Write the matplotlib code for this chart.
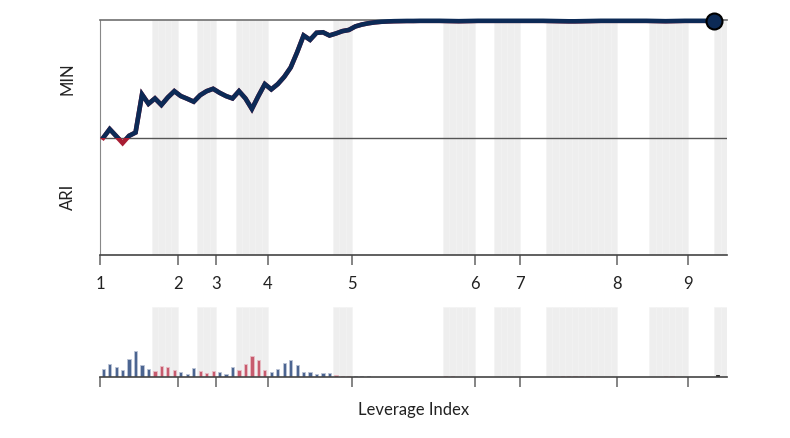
import numpy as np
import matplotlib.pyplot as plt
from matplotlib.patches import Rectangle

plt.rcParams['font.family'] = ['Lato', 'DejaVu Sans']

# %%
# Data (one value per leverage slot)
n_slots = 97
tick_slots = [0, 12, 18, 26, 39, 58, 65, 80, 91]
tick_labels = ['1', '2', '3', '4', '5', '6', '7', '8', '9']

# shaded slot ranges (start, end exclusive)
bands = [(8, 12), (15, 18), (21, 26), (36, 39), (53, 58),
         (61, 65), (69, 80), (85, 91), (95, 97)]

# MIN / ARI balance line, +1 = MIN, -1 = ARI
balance = [0.0, 0.074, 0.015, -0.045, 0.017, 0.045, 0.37, 0.29, 0.336, 0.28,
           0.345, 0.398, 0.356, 0.333, 0.308, 0.364, 0.398, 0.418, 0.384, 0.356,
           0.336, 0.398, 0.336, 0.246, 0.356, 0.458, 0.413, 0.458, 0.52, 0.60,
           0.73, 0.873, 0.836, 0.896, 0.90, 0.873, 0.89, 0.91, 0.92, 0.95,
           0.966, 0.977, 0.985, 0.99, 0.993, 0.995, 0.996, 0.997, 0.997, 0.998,
           0.998, 0.998, 0.998, 0.997, 0.996, 0.995, 0.996, 0.997, 0.998, 0.998,
           0.998, 0.998, 0.998, 0.998, 0.998, 0.998, 0.998, 0.998, 0.998, 0.997,
           0.996, 0.995, 0.994, 0.994, 0.995, 0.996, 0.997, 0.998, 0.998, 0.998,
           0.998, 0.998, 0.998, 0.998, 0.998, 0.997, 0.996, 0.995, 0.996, 0.997,
           0.998, 0.998, 0.998, 0.998, 0.998, 0.998]

# activity per slot (arbitrary units)
activity = [8.0, 13.3, 10.3, 7.3, 18.0, 25.6, 12.3, 8.3, 6.3, 11.3,
            10.3, 6.6, 4.6, 3.3, 9.0, 6.3, 4.0, 6.3, 5.0, 3.3,
            9.6, 7.0, 13.0, 21.3, 17.3, 6.6, 5.0, 8.3, 14.0, 17.0,
            12.3, 4.6, 4.6, 2.6, 4.3, 3.6, 2.3, 1.3, 1.3, 1.0,
            0.7, 0.6, 0.5, 0.5, 0, 0, 0, 0, 0, 0,
            0, 0, 0, 0.8, 0.6, 0, 0, 0, 0, 0,
            0, 0, 0, 0, 0, 0, 0, 0, 0, 0,
            0, 0.7, 0.7, 0.7, 0.7, 0.7, 0, 0, 0, 0,
            0, 0, 0, 0, 0, 0, 0, 0.6, 0.6, 0,
            0, 0, 0, 0, 0, 2.0, 0]

# %%
navy = '#0c2a56'
red = '#a81d33'
band_col = '#eeeeee'
axis_col = '#6f6f6f'

fig = plt.figure(figsize=(7.9, 4.38), dpi=100)
ax = fig.add_axes([100/790, 1-255/438, 627/790, 235/438])
ax2 = fig.add_axes([100/790, 1-377/438, 627/790, 70/438])

def shade(a):
    for s, e in bands:
        for k in range(s, e):
            a.axvspan(k, k+1, color=band_col, ec='#f3f3f3', lw=0.4, zorder=0)

def style_x(a):
    a.set_xlim(0, n_slots)
    a.set_xticks(tick_slots)
    a.spines['right'].set_visible(False)
    a.spines['bottom'].set_color('#444')
    a.spines['bottom'].set_linewidth(1.2)
    a.tick_params(axis='x', length=7, width=1.2, color=axis_col, pad=8,
                  labelsize=12, labelcolor='#222')
    a.tick_params(axis='y', left=False, labelleft=False)

# top panel
shade(ax)
style_x(ax)
ax.set_xticklabels(tick_labels)
ax.set_ylim(-1, 1.005)
ax.spines['top'].set_color(axis_col)
ax.spines['left'].set_color('#888')
ax.spines['top'].set_linewidth(1.2)
ax.axhline(0, color='#555', lw=1.0, zorder=1)

x = np.arange(len(balance)) + 0.5
ax.plot(x, balance, color=red, lw=3.3, solid_joinstyle='miter', zorder=3)
above = ax.plot(x, balance, color=navy, lw=3.3, solid_joinstyle='miter', zorder=4)[0]
clip = Rectangle((0, 0), n_slots, 2, transform=ax.transData)
above.set_clip_path(clip)
ax.plot(x[-1] - 0.5, balance[-1], 'o', ms=11.5, mfc=navy, mec='black', mew=1.5,
        zorder=5, clip_on=False)

# bottom panel
shade(ax2)
style_x(ax2)
ax2.set_xticklabels([])
ax2.set_ylim(0, 70)
ax2.spines['top'].set_visible(False)
ax2.spines['left'].set_visible(False)

in_band = set(k for s, e in bands for k in range(s, e))
colors = []
edges = []
for k in range(n_slots):
    if k == 95:
        colors.append('#1a1a1a'); edges.append('#1a1a1a')
    elif k in in_band:
        colors.append('#c75b6e'); edges.append('#e9bcc4')
    else:
        colors.append('#4c6591'); edges.append('#bcc5d6')
ax2.bar(np.arange(n_slots) + 0.5, activity, width=0.5, color=colors,
        edgecolor=edges, linewidth=0.6, zorder=2)

fig.text(68/790, 1-79/438, 'MIN', rotation=90, ha='center', va='center',
         fontsize=12, color='#222')
fig.text(68/790, 1-197/438, 'ARI', rotation=90, ha='center', va='center',
         fontsize=12, color='#222')
fig.text(413.5/790, 1-410/438, 'Leverage Index', ha='center', va='center',
         fontsize=12, color='#222')

fig.savefig('out.png', dpi=100)
